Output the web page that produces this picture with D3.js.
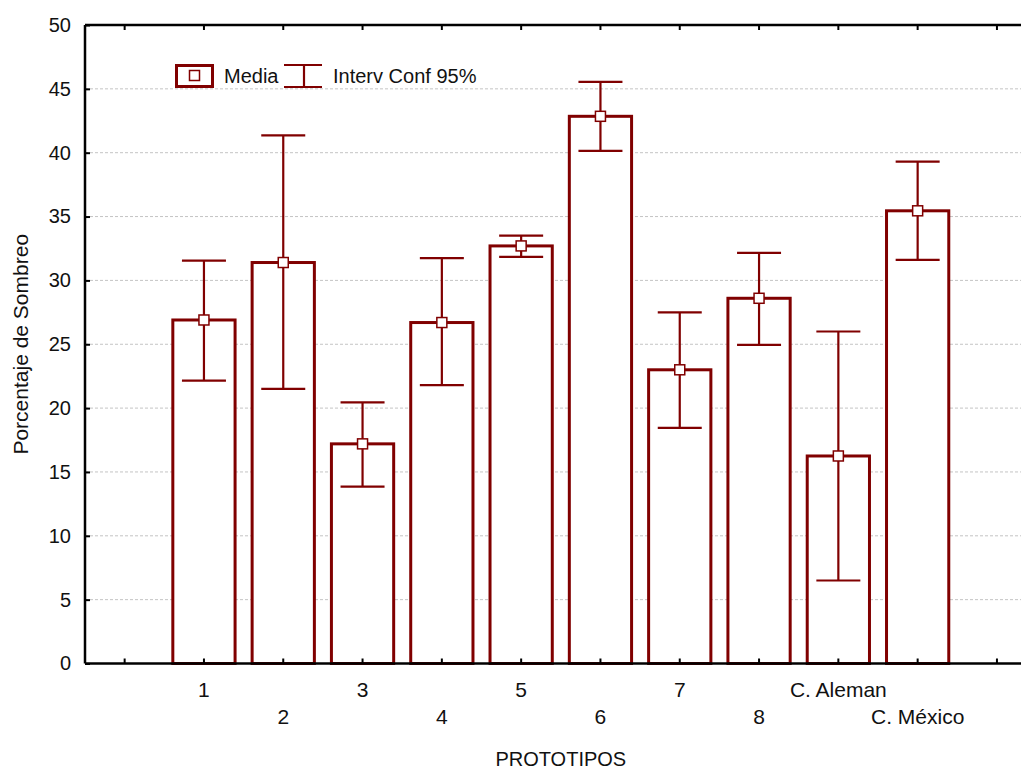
<!DOCTYPE html>
<html><head><meta charset="utf-8">
<script src="https://cdn.jsdelivr.net/npm/d3@7"></script>
<style>body{margin:0;background:#fff}svg{display:block}text{font-family:"Liberation Sans",Arial,sans-serif;fill:#111}</style>
</head><body><svg id="c" width="1021" height="769"></svg>
<script>
const categories = ["1","2","3","4","5","6","7","8","C. Aleman","C. México"];
const means = [26.9, 31.4, 17.2, 26.7, 32.7, 42.85, 23.0, 28.6, 16.25, 35.45];
const lower = [22.15, 21.5, 13.85, 21.8, 31.85, 40.15, 18.45, 24.95, 6.5, 31.6];
const upper = [31.55, 41.35, 20.45, 31.75, 33.5, 45.55, 27.5, 32.15, 26.0, 39.3];
const yTicks = [0,5,10,15,20,25,30,35,40,45,50];
const slots = ["_a", ...categories, "_b"];

(function(){
const svg = d3.select("#c");
const red = "#800000";
const pL = 85, pR = 1036.6, pT = 25, pB = 663.5;
const x = d3.scaleBand().domain(slots).range([pL, pR]).padding(0);
const y = d3.scaleLinear().domain([0, 50]).range([pB, pT]);
const cx = d => x(d) + x.bandwidth() / 2;
const barW = x.bandwidth() * 0.785;

// gridlines
svg.append("g").selectAll("line").data(yTicks.filter(t => t > 0 && t < 50)).join("line")
  .attr("x1", pL).attr("x2", 1021).attr("y1", d => y(d)).attr("y2", d => y(d))
  .attr("stroke", "#c4c4c4").attr("stroke-width", 1).attr("stroke-dasharray", "3,2");

const data = categories.map((c, i) => ({c, m: means[i], lo: lower[i], hi: upper[i]}));

// bars
svg.append("g").selectAll("rect").data(data).join("rect")
  .attr("x", d => cx(d.c) - barW / 2).attr("width", barW)
  .attr("y", d => y(d.m)).attr("height", d => y(0) - y(d.m))
  .attr("fill", "#fff").attr("stroke", red).attr("stroke-width", 3);

// whiskers
const capW = 44;
const wg = svg.append("g").attr("stroke", red).attr("stroke-width", 2.2);
wg.selectAll("line.v").data(data).join("line").attr("class", "v")
  .attr("x1", d => cx(d.c)).attr("x2", d => cx(d.c)).attr("y1", d => y(d.lo)).attr("y2", d => y(d.hi));
wg.selectAll("line.t").data(data).join("line").attr("class", "t")
  .attr("x1", d => cx(d.c) - capW / 2).attr("x2", d => cx(d.c) + capW / 2).attr("y1", d => y(d.hi)).attr("y2", d => y(d.hi));
wg.selectAll("line.b").data(data).join("line").attr("class", "b")
  .attr("x1", d => cx(d.c) - capW / 2).attr("x2", d => cx(d.c) + capW / 2).attr("y1", d => y(d.lo)).attr("y2", d => y(d.lo));

// markers
svg.append("g").selectAll("rect").data(data).join("rect")
  .attr("x", d => cx(d.c) - 5).attr("y", d => y(d.m) - 5).attr("width", 10).attr("height", 10)
  .attr("fill", "#fff").attr("stroke", red).attr("stroke-width", 1.5);

// axes
const yAxis = d3.axisLeft(y).tickValues(yTicks).tickSize(-5).tickPadding(14);
const gy = svg.append("g").attr("transform", `translate(${pL},0)`).call(yAxis);
gy.select(".domain").remove();
gy.selectAll(".tick line").attr("stroke", "#000").attr("stroke-width", 2);
gy.selectAll("text").attr("font-size", 20).attr("fill", "#111").attr("font-family", "Liberation Sans, Arial, sans-serif");

const xAxis = d3.axisBottom(x).tickSize(-5).tickFormat(d => d.startsWith("_") ? "" : d);
const gx = svg.append("g").attr("transform", `translate(0,${pB})`).call(xAxis);
gx.select(".domain").remove();
gx.selectAll(".tick line").attr("stroke", "#000").attr("stroke-width", 2);
gx.selectAll("text").attr("font-size", 21).attr("fill", "#111").attr("font-family", "Liberation Sans, Arial, sans-serif")
  .attr("y", d => (categories.indexOf(d) % 2 === 0) ? 33 : 60).attr("dy", 0);

const xTop = d3.axisTop(x).tickSize(-5).tickFormat("");
const gt = svg.append("g").attr("transform", `translate(0,${pT})`).call(xTop);
gt.select(".domain").remove();
gt.selectAll(".tick line").attr("stroke", "#000").attr("stroke-width", 2);

// frame lines
svg.append("line").attr("x1", pL).attr("x2", 1021).attr("y1", pT).attr("y2", pT).attr("stroke", "#000").attr("stroke-width", 2.5);
svg.append("line").attr("x1", pL).attr("x2", 1021).attr("y1", pB).attr("y2", pB).attr("stroke", "#000").attr("stroke-width", 2.5);
svg.append("line").attr("x1", pL).attr("x2", pL).attr("y1", pT).attr("y2", pB).attr("stroke", "#000").attr("stroke-width", 2.5);

// titles
svg.append("text").attr("x", (pL + pR) / 2).attr("y", 766).attr("text-anchor", "middle").attr("font-size", 20).text("PROTOTIPOS");
svg.append("text").attr("transform", `translate(28,${(pT + pB) / 2}) rotate(-90)`).attr("text-anchor", "middle").attr("font-size", 21).text("Porcentaje de Sombreo");

// legend
const lg = svg.append("g");
lg.append("rect").attr("x", 176.5).attr("y", 65.5).attr("width", 36).attr("height", 21).attr("fill", "#fff").attr("stroke", red).attr("stroke-width", 3);
lg.append("rect").attr("x", 189.5).attr("y", 70.5).attr("width", 10).attr("height", 10).attr("fill", "#fff").attr("stroke", red).attr("stroke-width", 1.5);
lg.append("text").attr("x", 224).attr("y", 83).attr("font-size", 20).text("Media");
lg.append("line").attr("x1", 284).attr("x2", 322).attr("y1", 65).attr("y2", 65).attr("stroke", red).attr("stroke-width", 2.2);
lg.append("line").attr("x1", 284).attr("x2", 322).attr("y1", 87).attr("y2", 87).attr("stroke", red).attr("stroke-width", 2.2);
lg.append("line").attr("x1", 304).attr("x2", 304).attr("y1", 65).attr("y2", 87).attr("stroke", red).attr("stroke-width", 2.2);
lg.append("text").attr("x", 333).attr("y", 83).attr("font-size", 20).text("Interv Conf 95%");
})();
</script></body></html>
